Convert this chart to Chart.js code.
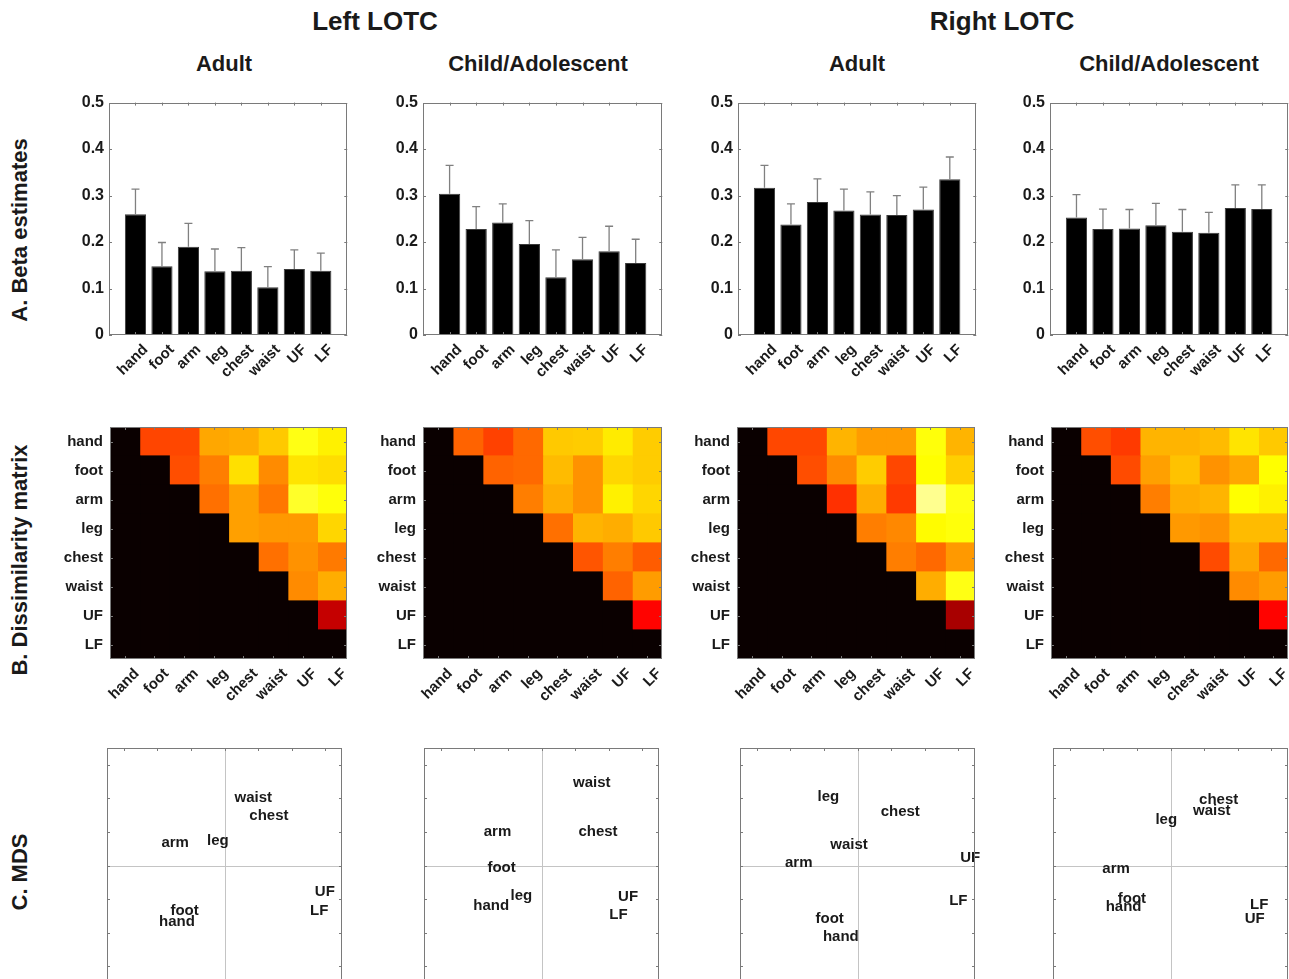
<!DOCTYPE html>
<html>
<head>
<meta charset="utf-8">
<script src="https://cdn.jsdelivr.net/npm/chart.js@4.4.0/dist/chart.umd.js"></script>
<style>
html, body { margin: 0; padding: 0; background: #fff; overflow: hidden; width: 1289px; height: 979px; }
body { position: relative; font-family: "Liberation Sans", Arial, sans-serif; font-weight: bold; color: #1a1a1a; }
.t { position: absolute; white-space: nowrap; transform: translate(-50%, -50%); }
.rot { transform: translate(-50%, -50%) rotate(-90deg); font-size: 22px; }
canvas { position: absolute; }
</style>
</head>
<body>
<div class="t" style="left:375px;top:21px;font-size:26px">Left LOTC</div>
<div class="t" style="left:1002px;top:21px;font-size:26px">Right LOTC</div>
<div class="t" style="left:224px;top:64px;font-size:22px">Adult</div>
<div class="t" style="left:538px;top:64px;font-size:22px">Child/Adolescent</div>
<div class="t" style="left:857px;top:64px;font-size:22px">Adult</div>
<div class="t" style="left:1169px;top:64px;font-size:22px">Child/Adolescent</div>
<div class="t rot" style="left:20px;top:230px">A. Beta estimates</div>
<div class="t rot" style="left:20px;top:560px">B. Dissimilarity matrix</div>
<div class="t rot" style="left:20px;top:872px">C. MDS</div>

<script>
// body parts, same order everywhere
const parts = ['hand', 'foot', 'arm', 'leg', 'chest', 'waist', 'UF', 'LF'];
const betaTicks = [0, 0.1, 0.2, 0.3, 0.4, 0.5];
const mdsTicks = [-3, -2, -1, 0, 1, 2, 3];

// A. beta estimates (mean) and standard error
const betaLeftAdult  = [0.260, 0.148, 0.190, 0.137, 0.138, 0.103, 0.142, 0.138];
const semLeftAdult   = [0.054, 0.051, 0.050, 0.048, 0.050, 0.044, 0.041, 0.038];
const betaLeftChild  = [0.304, 0.228, 0.242, 0.196, 0.124, 0.163, 0.180, 0.155];
const semLeftChild   = [0.061, 0.048, 0.040, 0.050, 0.059, 0.047, 0.054, 0.051];
const betaRightAdult = [0.317, 0.238, 0.286, 0.268, 0.259, 0.258, 0.270, 0.335];
const semRightAdult  = [0.048, 0.044, 0.050, 0.046, 0.049, 0.042, 0.048, 0.048];
const betaRightChild = [0.253, 0.228, 0.229, 0.236, 0.222, 0.220, 0.273, 0.271];
const semRightChild  = [0.049, 0.043, 0.041, 0.047, 0.048, 0.044, 0.050, 0.052];

// B. dissimilarity, upper triangle row by row (colour scale 0..1, hot map)
const dissLeftAdult = [
    [0.476, 0.48, 0.62, 0.63, 0.67, 0.77, 0.73],
    [0.49, 0.56, 0.705, 0.58, 0.71, 0.70],
    [0.54, 0.61, 0.55, 0.79, 0.76],
    [0.61, 0.60, 0.60, 0.69],
    [0.54, 0.59, 0.555],
    [0.58, 0.63],
    [0.29],
];
const dissLeftChild = [
    [0.52, 0.47, 0.53, 0.67, 0.675, 0.72, 0.675],
    [0.52, 0.53, 0.65, 0.59, 0.69, 0.675],
    [0.56, 0.63, 0.59, 0.73, 0.69],
    [0.54, 0.64, 0.63, 0.67],
    [0.50, 0.56, 0.51],
    [0.52, 0.605],
    [0.38],
];
const dissRightAdult = [
    [0.48, 0.48, 0.64, 0.605, 0.605, 0.76, 0.64],
    [0.49, 0.58, 0.675, 0.48, 0.75, 0.68],
    [0.445, 0.63, 0.46, 0.89, 0.77],
    [0.56, 0.575, 0.745, 0.76],
    [0.56, 0.53, 0.60],
    [0.63, 0.77],
    [0.247],
];
const dissRightChild = [
    [0.49, 0.46, 0.64, 0.64, 0.65, 0.71, 0.67],
    [0.485, 0.61, 0.66, 0.59, 0.62, 0.75],
    [0.56, 0.63, 0.64, 0.75, 0.73],
    [0.60, 0.59, 0.65, 0.65],
    [0.485, 0.62, 0.53],
    [0.58, 0.605],
    [0.38],
];

// C. MDS coordinates
const mdsLeftAdultX  = [-1.95, -1.61, -1.88, -0.52, 0.74, 0.30, 2.69, 2.55];
const mdsLeftAdultY  = [-1.69, -1.34, 0.67, 0.72, 1.49, 2.00, -0.78, -1.36];
const mdsLeftChildX  = [-2.03, -1.61, -1.72, -0.92, 1.10, 0.94, 2.28, 2.02];
const mdsLeftChildY  = [-1.21, -0.07, 0.99, -0.91, 0.99, 2.45, -0.93, -1.47];
const mdsRightAdultX = [-1.03, -1.25, -2.16, -1.19, 0.69, -0.81, 3.06, 2.73];
const mdsRightAdultY = [-2.13, -1.60, 0.08, 2.03, 1.60, 0.62, 0.23, -1.05];
const mdsRightChildX = [-1.93, -1.57, -2.03, -0.45, 0.85, 0.67, 2.21, 2.37];
const mdsRightChildY = [-1.22, -0.99, -0.10, 1.35, 1.95, 1.62, -1.58, -1.17];

Chart.defaults.font.family = '"Liberation Sans", Arial, sans-serif';
Chart.defaults.font.weight = 'bold';
Chart.defaults.font.size = 15;
Chart.defaults.color = '#1a1a1a';

const FONT = { size: 15, weight: 'bold' };
const AXIS = '#7a7a7a';

function hot(t) {
    const c = (v) => Math.round(255 * Math.max(0, Math.min(1, v)));
    return `rgb(${Math.max(10, c(t / 0.375))},${c((t - 0.375) / 0.375)},${c((t - 0.75) / 0.25)})`;
}

// box, inward ticks, error bars, crosshair, text labels
const boxPlugin = {
    id: 'box',
    afterDatasetsDraw(chart, args, o) {
        const { ctx, chartArea: a, scales } = chart;
        ctx.save();
        if (o.cross) {
            ctx.strokeStyle = '#c4c4c4';
            ctx.lineWidth = 1;
            const x0 = Math.round(scales.x.getPixelForValue(0)) + 0.5;
            const y0 = Math.round(scales.y.getPixelForValue(0)) + 0.5;
            ctx.beginPath();
            ctx.moveTo(a.left, y0); ctx.lineTo(a.right, y0);
            ctx.moveTo(x0, a.top); ctx.lineTo(x0, a.bottom);
            ctx.stroke();
        }
        if (o.sem) {
            const meta = chart.getDatasetMeta(0);
            const vals = chart.data.datasets[0].data;
            ctx.strokeStyle = '#808080';
            ctx.lineWidth = 1.3;
            o.sem.forEach((s, i) => {
                const el = meta.data[i + 1];
                const v = vals[i + 1];
                const y1 = scales.y.getPixelForValue(v);
                const y2 = scales.y.getPixelForValue(v + s);
                ctx.beginPath();
                ctx.moveTo(el.x, y1); ctx.lineTo(el.x, y2);
                ctx.moveTo(el.x - 4, y2); ctx.lineTo(el.x + 4, y2);
                ctx.stroke();
            });
        }
        if (o.labels) {
            const meta = chart.getDatasetMeta(0);
            ctx.fillStyle = '#1a1a1a';
            ctx.font = 'bold 15px "Liberation Sans", Arial, sans-serif';
            ctx.textAlign = 'left';
            ctx.textBaseline = 'middle';
            o.labels.forEach((t, i) => ctx.fillText(t, meta.data[i].x, meta.data[i].y));
        }
        ctx.strokeStyle = AXIS;
        ctx.lineWidth = 1;
        ctx.strokeRect(Math.round(a.left) + 0.5, Math.round(a.top) + 0.5,
            Math.round(a.width) - 1, Math.round(a.height) - 1);
        const L = 3;
        ctx.beginPath();
        (o.xTicks || []).forEach((v) => {
            const p = Math.round(scales.x.getPixelForValue(v)) + 0.5;
            ctx.moveTo(p, a.top); ctx.lineTo(p, a.top + L);
            ctx.moveTo(p, a.bottom); ctx.lineTo(p, a.bottom - L);
        });
        (o.yTicks || []).forEach((v) => {
            const p = Math.round(scales.y.getPixelForValue(v)) + 0.5;
            ctx.moveTo(a.left, p); ctx.lineTo(a.left + L, p);
            ctx.moveTo(a.right, p); ctx.lineTo(a.right - L, p);
        });
        ctx.stroke();
        ctx.restore();
    },
};

function makeCanvas(plot, m) {
    const c = document.createElement('canvas');
    c.width = Math.round(m.L + plot.w + m.R);
    c.height = Math.round(m.T + plot.h + m.B);
    c.style.left = Math.round(plot.l - m.L) + 'px';
    c.style.top = Math.round(plot.t - m.T) + 'px';
    document.body.appendChild(c);
    return c;
}

// draw once to measure where the chart area falls, then redo it so the
// chart area lands exactly on the plot rectangle
function placeChart(plot, m, makeConfig) {
    let c = makeCanvas(plot, m);
    let chart = new Chart(c, makeConfig());
    const a = chart.chartArea;
    const real = { L: a.left, T: a.top, R: c.width - a.right, B: c.height - a.bottom };
    chart.destroy();
    c.remove();
    c = makeCanvas(plot, real);
    return new Chart(c, makeConfig());
}

const baseOpts = { responsive: false, maintainAspectRatio: false, animation: false, events: [] };

function betaChart(plot, vals, sem) {
    const m = { L: 56, T: 10, R: 6, B: 60 };
    placeChart(plot, m, () => ({
        type: 'bar',
        data: {
            labels: ['', ...parts, ''],
            datasets: [{
                data: [null, ...vals, null],
                backgroundColor: '#000', borderColor: '#3a3a3a', borderWidth: 1,
                barPercentage: 0.8, categoryPercentage: 1,
            }],
        },
        options: {
            ...baseOpts,
            layout: { padding: { top: m.T, right: m.R, left: 0, bottom: 0 } },
            plugins: {
                legend: { display: false }, tooltip: { enabled: false },
                box: { sem, xTicks: parts.map((_, i) => i + 1), yTicks: betaTicks },
            },
            scales: {
                x: {
                    offset: false, grid: { display: false, drawTicks: false }, border: { display: false },
                    ticks: { autoSkip: false, minRotation: 45, maxRotation: 45, padding: 6, labelOffset: 10, font: FONT },
                    afterFit: (s) => { s.height = m.B; },
                },
                y: {
                    min: 0, max: 0.5, grid: { display: false, drawTicks: false }, border: { display: false },
                    afterBuildTicks: (s) => { s.ticks = betaTicks.map((v) => ({ value: v })); },
                    ticks: { padding: 5, font: { size: 16, weight: 'bold' }, callback: (v) => (v === 0 ? '0' : v.toFixed(1)) },
                    afterFit: (s) => { s.width = m.L; },
                },
            },
        },
        plugins: [boxPlugin],
    }));
}

function dissimChart(plot, tri) {
    const m = { L: 60, T: 6, R: 6, B: 60 };
    const full = parts.map((_, r) => parts.map((_, c) => (c > r ? tri[r][c - r - 1] : 0)));
    const centers = parts.map((_, i) => i + 0.5);
    placeChart(plot, m, () => ({
        type: 'bar',
        data: {
            labels: parts,
            datasets: parts.map((_, c) => ({
                data: parts.map(() => 1),
                backgroundColor: parts.map((_, r) => hot(full[r][c])),
                borderWidth: 0, inflateAmount: 0.6, barPercentage: 1, categoryPercentage: 1,
            })),
        },
        options: {
            ...baseOpts,
            indexAxis: 'y',
            layout: { padding: { top: m.T, right: m.R, left: 0, bottom: 0 } },
            plugins: {
                legend: { display: false }, tooltip: { enabled: false },
                box: { xTicks: centers, yTicks: parts.map((_, i) => i) },
            },
            scales: {
                x: {
                    type: 'linear', stacked: true, min: 0, max: 8,
                    grid: { display: false, drawTicks: false }, border: { display: false },
                    afterBuildTicks: (s) => { s.ticks = centers.map((v) => ({ value: v })); },
                    ticks: { autoSkip: false, minRotation: 45, maxRotation: 45, padding: 6, labelOffset: 12, font: FONT,
                        callback: (v, i) => parts[i] },
                    afterFit: (s) => { s.height = m.B; },
                },
                y: {
                    stacked: true, grid: { display: false, drawTicks: false }, border: { display: false },
                    ticks: { padding: 7, font: FONT },
                    afterFit: (s) => { s.width = m.L; },
                },
            },
        },
        plugins: [boxPlugin],
    }));
}

function mdsChart(plot, xs, ys) {
    const m = { L: 2, T: 2, R: 24, B: 2 };
    placeChart(plot, m, () => ({
        type: 'scatter',
        data: { datasets: [{ data: xs.map((x, i) => ({ x, y: ys[i] })), pointRadius: 0 }] },
        options: {
            ...baseOpts,
            layout: { padding: { left: m.L, top: m.T, right: m.R, bottom: m.B } },
            plugins: {
                legend: { display: false }, tooltip: { enabled: false },
                box: { cross: true, labels: parts, xTicks: mdsTicks, yTicks: mdsTicks },
            },
            scales: {
                x: { display: false, min: -3.5, max: 3.5 },
                y: { display: false, min: -3.5, max: 3.5 },
            },
        },
        plugins: [boxPlugin],
    }));
}

betaChart({ l: 109, t: 103, w: 238, h: 232 }, betaLeftAdult, semLeftAdult);
betaChart({ l: 423, t: 103, w: 239, h: 232 }, betaLeftChild, semLeftChild);
betaChart({ l: 738, t: 103, w: 238, h: 232 }, betaRightAdult, semRightAdult);
betaChart({ l: 1050, t: 103, w: 238, h: 232 }, betaRightChild, semRightChild);

dissimChart({ l: 110, t: 427, w: 237, h: 232 }, dissLeftAdult);
dissimChart({ l: 423, t: 427, w: 239, h: 232 }, dissLeftChild);
dissimChart({ l: 737, t: 427, w: 238, h: 232 }, dissRightAdult);
dissimChart({ l: 1051, t: 427, w: 237, h: 232 }, dissRightChild);

mdsChart({ l: 107, t: 748, w: 235, h: 235 }, mdsLeftAdultX, mdsLeftAdultY);
mdsChart({ l: 424, t: 748, w: 235, h: 235 }, mdsLeftChildX, mdsLeftChildY);
mdsChart({ l: 740, t: 748, w: 235, h: 235 }, mdsRightAdultX, mdsRightAdultY);
mdsChart({ l: 1053, t: 748, w: 235, h: 235 }, mdsRightChildX, mdsRightChildY);
</script>
</body>
</html>
